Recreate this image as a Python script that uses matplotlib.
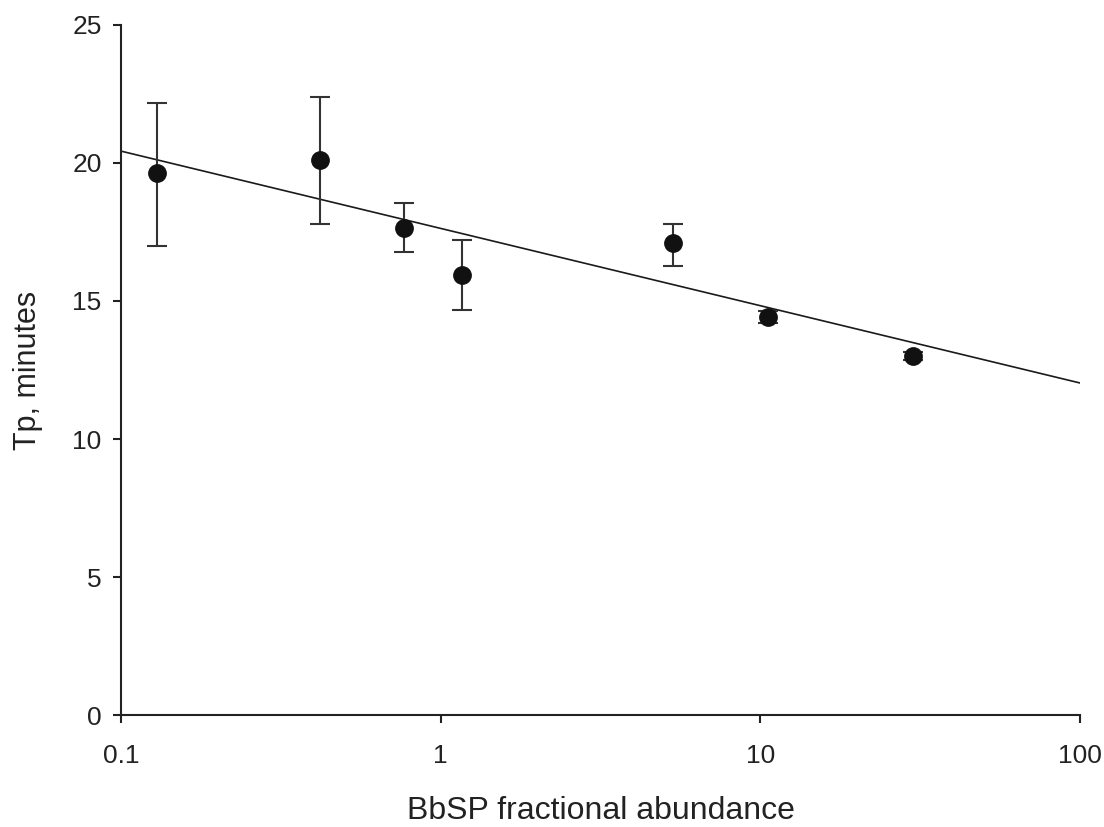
import numpy as np
import matplotlib
matplotlib.use("Agg")
import matplotlib.pyplot as plt
from matplotlib.ticker import FixedLocator, FixedFormatter, NullLocator

# === DATA ===
abundance = [0.13, 0.42, 0.77, 1.17, 5.33, 10.6, 30.0]
tp_mean = [19.64, 20.11, 17.64, 15.94, 17.10, 14.42, 13.02]
err_low = [2.65, 2.32, 0.86, 1.27, 0.83, 0.20, 0.15]
err_high = [2.53, 2.28, 0.91, 1.27, 0.70, 0.20, 0.15]

# regression line Tp = fit_intercept + fit_slope * log10(abundance)
fit_slope = -2.80
fit_intercept = 17.63

x_ticks = [0.1, 1, 10, 100]
x_tick_labels = ["0.1", "1", "10", "100"]
y_ticks = [0, 5, 10, 15, 20, 25]

plt.rcParams["font.family"] = ["Liberation Sans", "DejaVu Sans"]

fig = plt.figure(figsize=(11.04, 8.27), dpi=100)
ax = fig.add_axes([0.1096, 0.1354, 0.8686, 0.8344])

# === FIT LINE ===
xfit = np.logspace(-1, 2, 200)
ax.plot(xfit, fit_intercept + fit_slope * np.log10(xfit), color="#1a1a1a", lw=1.2, zorder=2)

# === POINTS WITH ERROR BARS ===
ax.errorbar(abundance, tp_mean, yerr=[err_low, err_high], fmt="o", color="#111111",
            ecolor="#333333", elinewidth=1.5, capsize=7.5, capthick=1.5,
            markersize=12.5, zorder=3)

ax.set_xscale("log")
ax.set_xlim(0.1, 100)
ax.set_ylim(0, 25)
ax.xaxis.set_major_locator(FixedLocator(x_ticks))
ax.xaxis.set_major_formatter(FixedFormatter(x_tick_labels))
ax.xaxis.set_minor_locator(NullLocator())
ax.set_yticks(y_ticks)

for side in ["top", "right"]:
    ax.spines[side].set_visible(False)
for side in ["left", "bottom"]:
    ax.spines[side].set_linewidth(1.5)
    ax.spines[side].set_color("#222222")

ax.tick_params(direction="out", length=6, width=1.5, color="#222222",
               labelsize=19, labelcolor="#222222")
ax.tick_params(axis="x", pad=15)
ax.tick_params(axis="y", pad=8)

ax.set_xlabel("BbSP fractional abundance", fontsize=23, color="#222222", labelpad=20)
ax.set_ylabel("Tp, minutes", fontsize=22, color="#222222", labelpad=21)

plt.savefig("out.png", dpi=100)
